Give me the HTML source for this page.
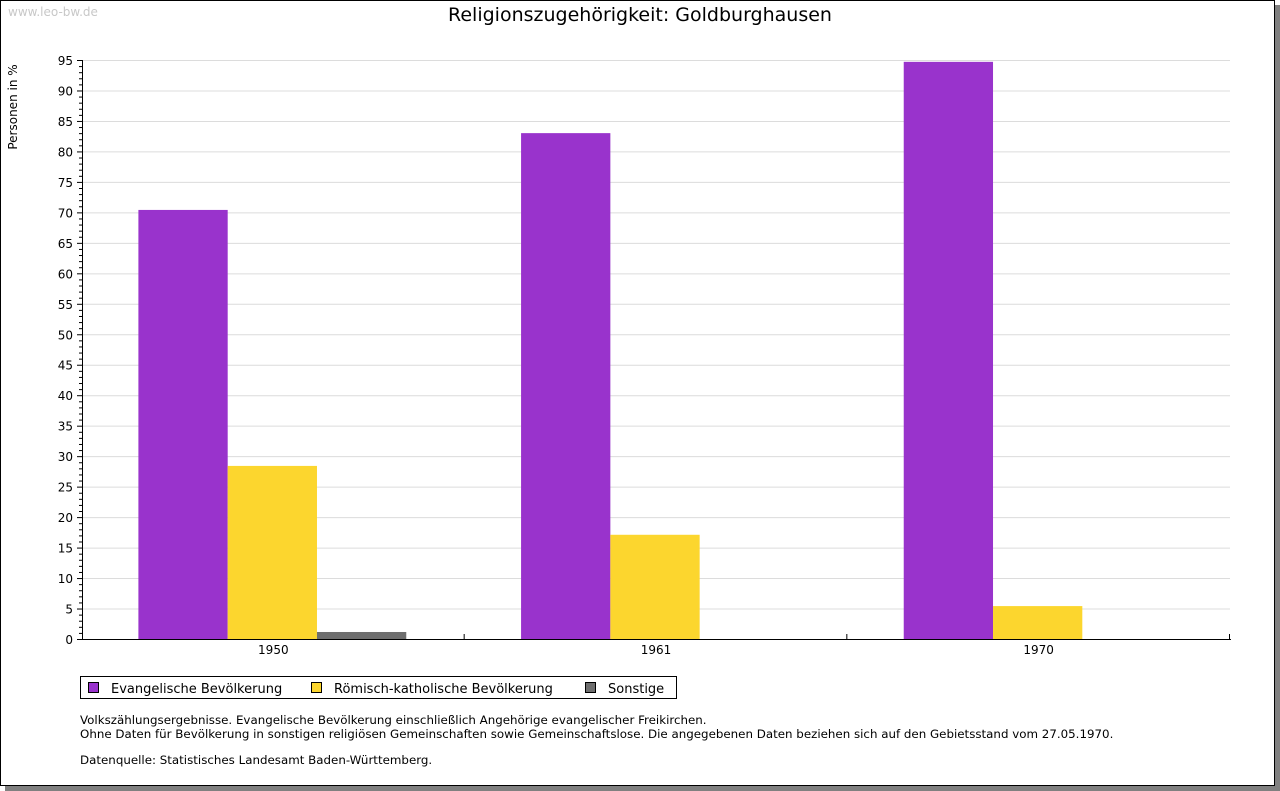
<!DOCTYPE html>
<html><head><meta charset="utf-8"><style>
body{margin:0;background:#fff;}
svg{display:block;font-family:"DejaVu Sans","Liberation Sans",sans-serif;}
</style></head><body>
<svg id="c" width="1280" height="791" xmlns="http://www.w3.org/2000/svg">
<rect x="5" y="5" width="1275" height="786" fill="#808080"/>
<rect x="0.5" y="0.5" width="1274" height="785" fill="#fff" stroke="#000"/>
<text x="8" y="16" font-size="12" fill="#c8c8c8">www.leo-bw.de</text>
<text x="640" y="21" font-size="19" text-anchor="middle" fill="#000">Religionszugehörigkeit: Goldburghausen</text>
<text transform="translate(17,107) rotate(-90)" font-size="12" text-anchor="middle">Personen in %</text>
<g id="grid"></g><g id="bars"></g><g id="axes"></g>
<g>
<rect x="80.5" y="676.5" width="596" height="22" fill="#fff" stroke="#000"/>
<rect x="88.5" y="682.5" width="10" height="10" fill="#9933cc" stroke="#000"/>
<text x="111" y="693" font-size="13">Evangelische Bevölkerung</text>
<rect x="311.5" y="682.5" width="10" height="10" fill="#fcd62e" stroke="#000"/>
<text x="334" y="693" font-size="13">Römisch-katholische Bevölkerung</text>
<rect x="585.5" y="682.5" width="10" height="10" fill="#6e6e6e" stroke="#000"/>
<text x="608" y="693" font-size="13">Sonstige</text>
</g>
<g font-size="11.85">
<text x="80" y="724">Volkszählungsergebnisse. Evangelische Bevölkerung einschließlich Angehörige evangelischer Freikirchen.</text>
<text x="80" y="738">Ohne Daten für Bevölkerung in sonstigen religiösen Gemeinschaften sowie Gemeinschaftslose. Die angegebenen Daten beziehen sich auf den Gebietsstand vom 27.05.1970.</text>
<text x="80" y="764">Datenquelle: Statistisches Landesamt Baden-Württemberg.</text>
</g>
</svg>
<script>
const categories=["1950","1961","1970"];
const evangelisch=[70.4,83.0,94.7];
const katholisch=[28.4,17.1,5.4];
const sonstige=[1.15,0,0];
const yTicks=[0,5,10,15,20,25,30,35,40,45,50,55,60,65,70,75,80,85,90,95];
const NS="http://www.w3.org/2000/svg";
const X0=82,X1=1230,Y0=639,Y1=60,YMAX=95;
const y=v=>Y0-(v/YMAX)*(Y0-Y1);
const gw=(X1-X0)/categories.length;
const x=i=>X0+gw*i;
function mk(parent,tag,attrs){const e=document.createElementNS(NS,tag);for(const k in attrs)e.setAttribute(k,attrs[k]);document.getElementById(parent).appendChild(e);return e;}
yTicks.forEach(t=>{
  const l=mk('grid','line',{x1:X0,x2:X1,y1:y(t)+0.5,y2:y(t)+0.5,stroke:'#dcdcdc'});
  
  
  const tx=mk('axes','text',{x:X0-9,y:y(t)+5,'font-size':12,'text-anchor':'end'});
  tx.textContent=t;
  
  
  mk('axes','line',{x1:X0-5,x2:X0,y1:y(t)+0.5,y2:y(t)+0.5,stroke:'#000'});
});
for(let v=0;v<=YMAX;v++){if(v%5)mk('axes','line',{x1:X0-3,x2:X0,y1:y(v)+0.5,y2:y(v)+0.5,stroke:'#000'});}
const series=[[evangelisch,'#9933cc','evangelisch'],[katholisch,'#fcd62e','katholisch'],[sonstige,'#6e6e6e','sonstige']];
const bw=gw*0.7/3;
categories.forEach((c,i)=>{
  const start=x(i)+gw*0.15-1;
  series.forEach((s,j)=>{
    const v=s[0][i];
    const r=mk('bars','rect',{x:start+j*bw,y:y(v),width:bw,height:Y0-y(v),fill:s[1]});
    
    
  });
  const t=mk('axes','text',{x:x(i)+gw/2,y:Y0+15,'font-size':12,'text-anchor':'middle'});
  t.textContent=c;
  
  
  mk('axes','line',{x1:x(i+1)-0.5,x2:x(i+1)-0.5,y1:Y0-5,y2:Y0,stroke:'#000'});
});
const ya=mk('axes','line',{x1:X0+0.5,x2:X0+0.5,y1:Y1,y2:Y0+1,stroke:'#000'});


const xa=mk('axes','line',{x1:X0,x2:X1+1,y1:Y0+0.5,y2:Y0+0.5,stroke:'#000'});


</script>
</body></html>
